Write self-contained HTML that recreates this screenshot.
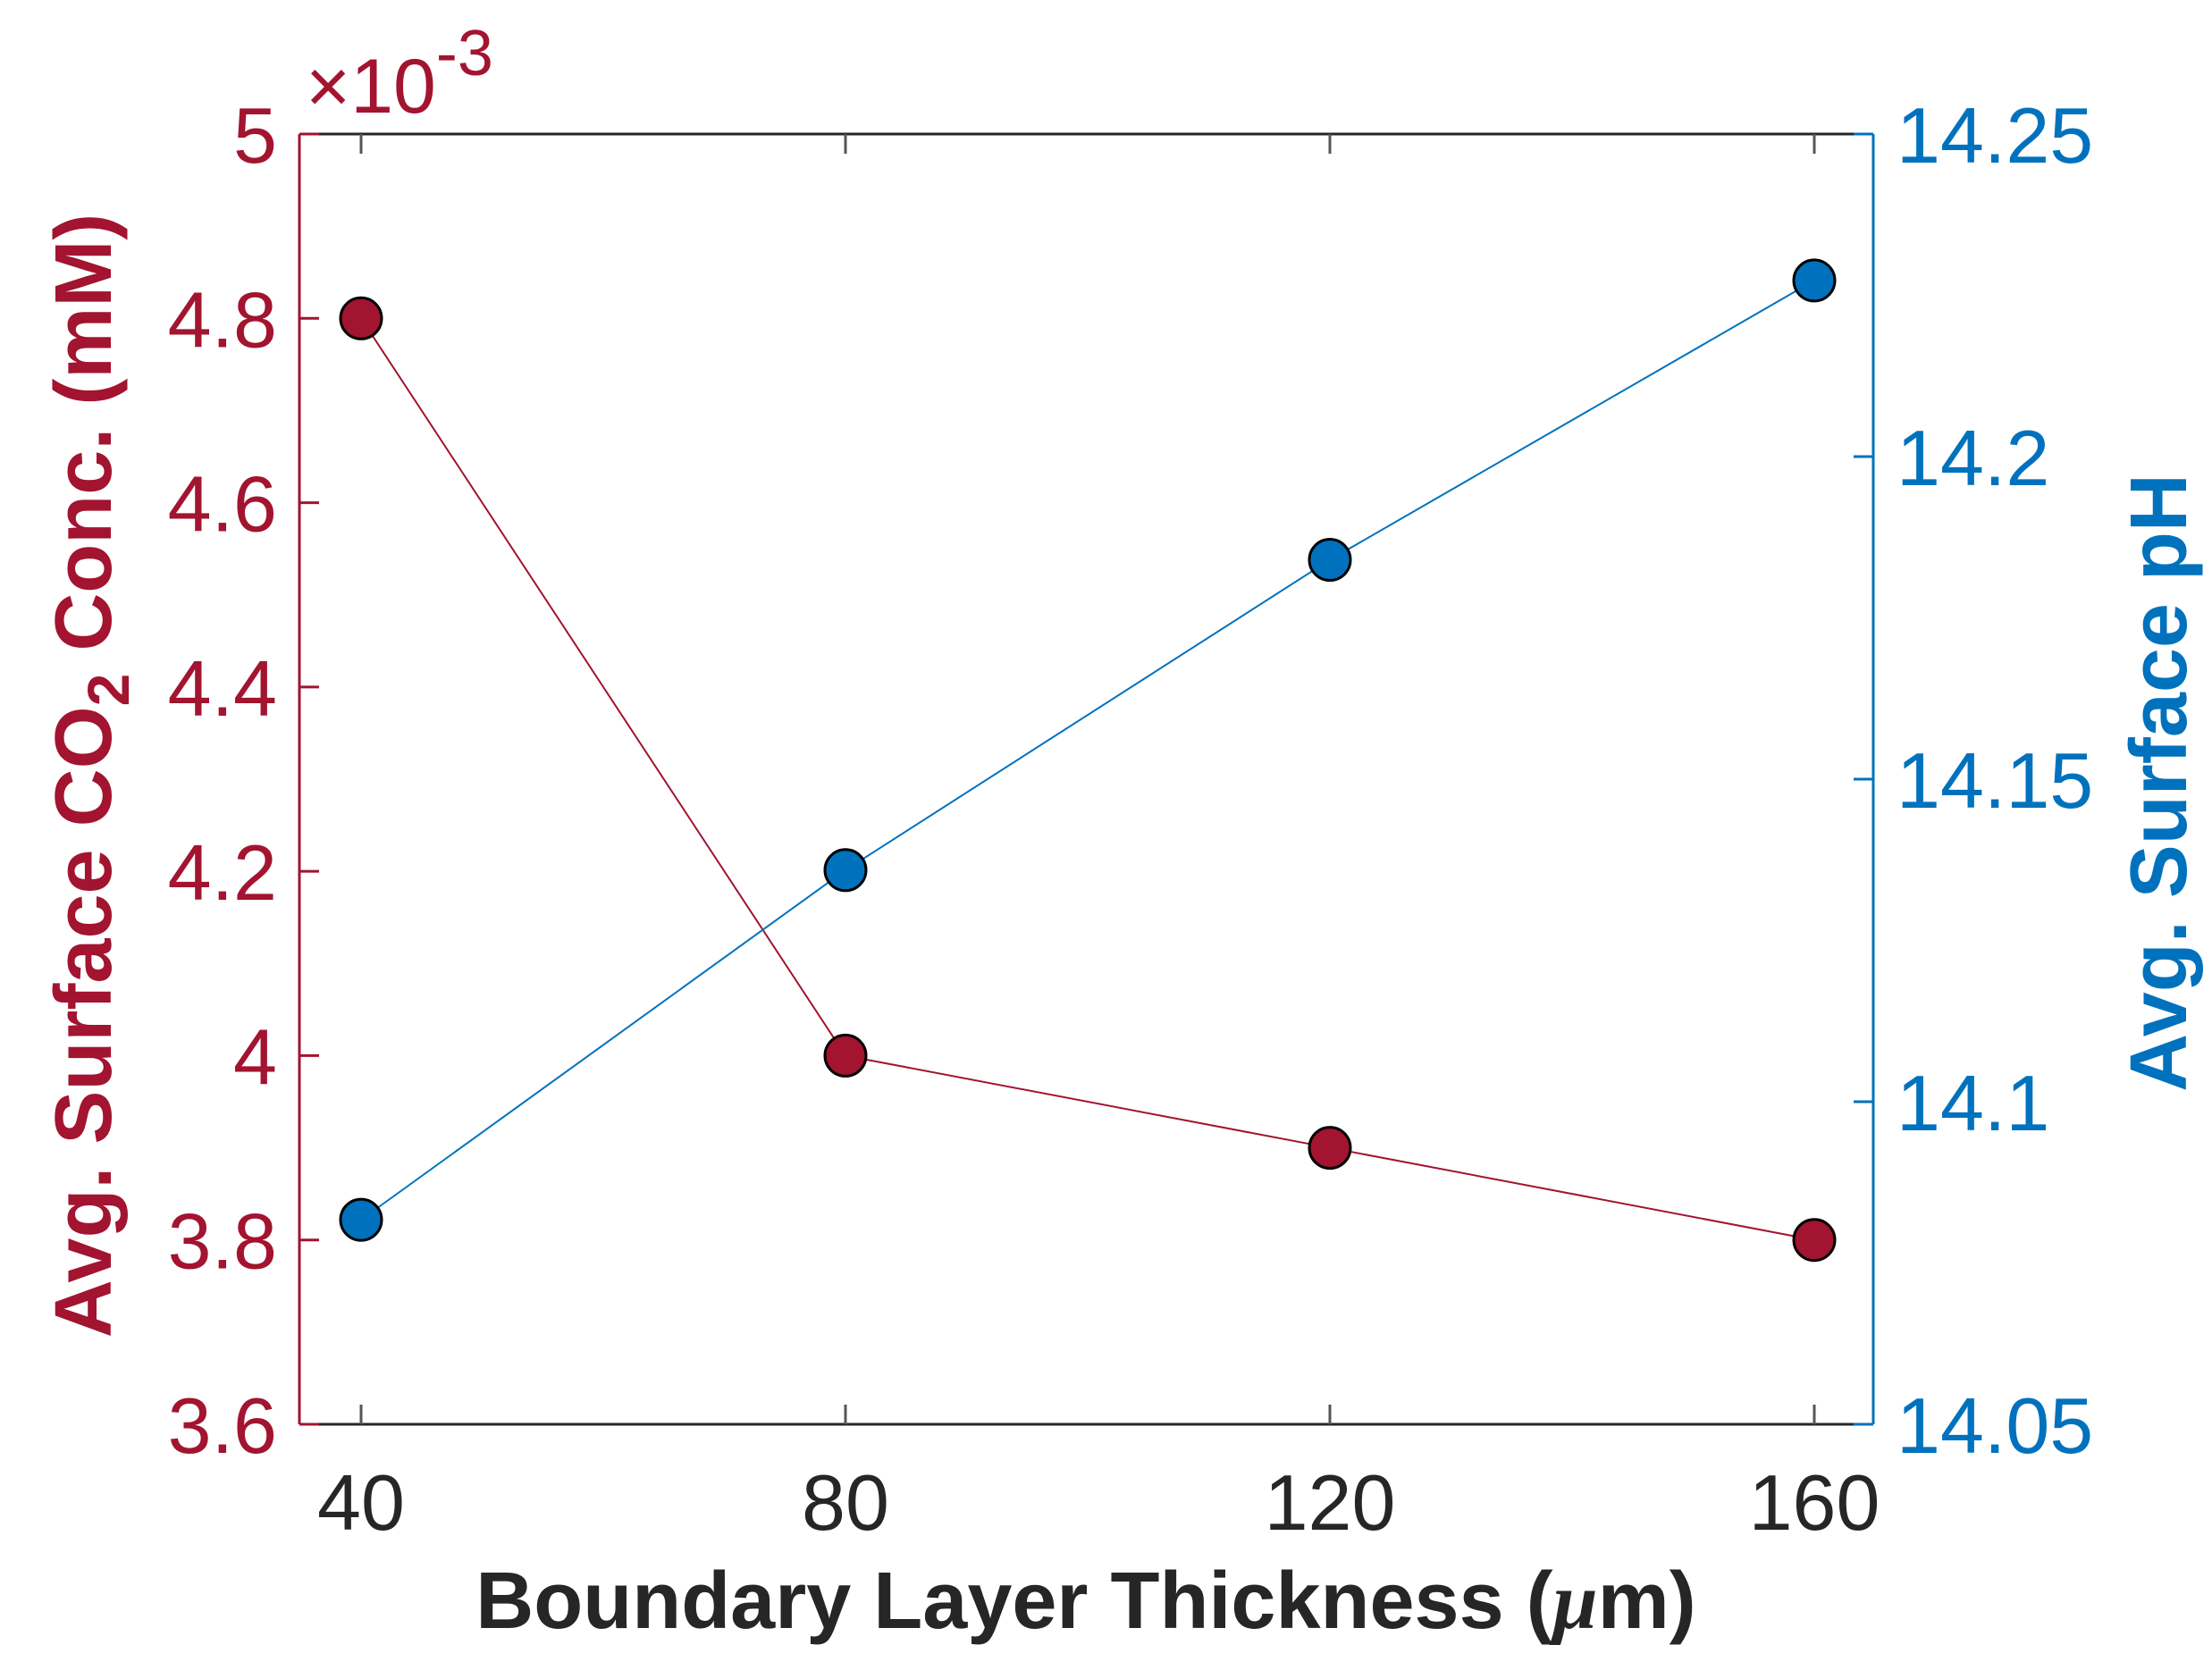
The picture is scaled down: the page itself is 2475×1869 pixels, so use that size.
<!DOCTYPE html>
<html><head><meta charset="utf-8"><style>
html,body{margin:0;padding:0;background:#fff}
svg text{font-family:"Liberation Sans",Arial,sans-serif}
</style></head><body>
<svg id="chart" width="2475" height="1864" viewBox="0 0 2475 1864" xmlns="http://www.w3.org/2000/svg">
<g id="axes"></g>
<g id="series"></g>
<text x="342" y="126" font-size="86" fill="#A2142F">×10<tspan dy="-42" font-size="72">-3</tspan></text>
<text x="1215" y="1822" font-size="90" font-weight="bold" fill="#262626" text-anchor="middle">Boundary Layer Thickness (<tspan font-style="italic" font-family="Liberation Serif">μ</tspan>m)</text>
<text transform="translate(124,868) rotate(-90)" font-size="90" font-weight="bold" fill="#A2142F" text-anchor="middle">Avg. Surface CO<tspan dy="20" font-size="66">2</tspan><tspan dy="-20"> Conc. (mM)</tspan></text>
<text transform="translate(2446,876) rotate(-90)" font-size="90" font-weight="bold" fill="#0072BD" text-anchor="middle">Avg. Surface pH</text>
</svg>
<script>
const categories=[40,80,120,160];
const co2Values=[4.8,4.0,3.9,3.8];
const phValues=[14.0817,14.1359,14.184,14.2273];
const xTicks=[40,80,120,160];
const leftTicks=[3.6,3.8,4,4.2,4.4,4.6,4.8,5];
const rightTicks=[14.05,14.1,14.15,14.2,14.25];
const leftTickLabels=["3.6","3.8","4","4.2","4.4","4.6","4.8","5"];
const rightTickLabels=["14.05","14.1","14.15","14.2","14.25"];

const L=335,R=2096,T=150,B=1594;
const NS="http://www.w3.org/2000/svg";
const xs=v=>404+(v-40)*(2030-404)/120;
const yl=v=>B-(v-3.6)*(B-T)/1.4;
const yr=v=>B-(v-14.05)*(B-T)/0.2;
const RED="#A2142F",BLUE="#0072BD";
function mk(parent,tag,attrs){const e=document.createElementNS(NS,tag);for(const k in attrs)e.setAttribute(k,attrs[k]);parent.appendChild(e);return e;}
const ax=document.getElementById('axes');
const sr=document.getElementById('series');
let e;
e=mk(ax,'line',{x1:L,y1:T,x2:R,y2:T,stroke:'#262626','stroke-width':3});


e=mk(ax,'line',{x1:L,y1:B,x2:R,y2:B,stroke:'#262626','stroke-width':3});


e=mk(ax,'line',{x1:L,y1:T,x2:L,y2:B,stroke:RED,'stroke-width':3});


e=mk(ax,'line',{x1:R,y1:T,x2:R,y2:B,stroke:BLUE,'stroke-width':3});


xTicks.forEach((v,i)=>{
  const x=xs(v);
  let t=mk(ax,'line',{x1:x,y1:B,x2:x,y2:B-22,stroke:'#555','stroke-width':3});
  
  
  t=mk(ax,'line',{x1:x,y1:T,x2:x,y2:T+22,stroke:'#555','stroke-width':3});
  
  
  const tx=mk(ax,'text',{x:x,y:1712,'font-size':88,fill:'#262626','text-anchor':'middle'});
  tx.textContent=String(v);
  
  
});
leftTicks.forEach((v,i)=>{
  const y=yl(v);
  const t=mk(ax,'line',{x1:L,y1:y,x2:L+22,y2:y,stroke:RED,'stroke-width':3});
  
  
  const tx=mk(ax,'text',{x:310,y:y+32,'font-size':88,fill:RED,'text-anchor':'end'});
  tx.textContent=leftTickLabels[i];
  
  
});
rightTicks.forEach((v,i)=>{
  const y=yr(v);
  const t=mk(ax,'line',{x1:R,y1:y,x2:R-22,y2:y,stroke:BLUE,'stroke-width':3});
  
  
  const tx=mk(ax,'text',{x:2122,y:y+32,'font-size':88,fill:BLUE,'text-anchor':'start'});
  tx.textContent=rightTickLabels[i];
  
  
});
let p=mk(sr,'polyline',{points:categories.map((c,i)=>xs(c)+','+yl(co2Values[i])).join(' '),fill:'none',stroke:RED,'stroke-width':2});


p=mk(sr,'polyline',{points:categories.map((c,i)=>xs(c)+','+yr(phValues[i])).join(' '),fill:'none',stroke:BLUE,'stroke-width':2});


categories.forEach((c,i)=>{
  let m=mk(sr,'circle',{cx:xs(c),cy:yl(co2Values[i]),r:23,fill:RED,stroke:'#000','stroke-width':3});
  
  
  m=mk(sr,'circle',{cx:xs(c),cy:yr(phValues[i]),r:23,fill:BLUE,stroke:'#000','stroke-width':3});
  
  
});
</script>
</body></html>
